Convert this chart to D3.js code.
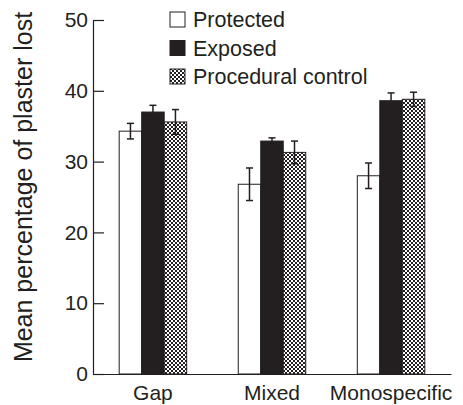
<!DOCTYPE html>
<html>
<head>
<meta charset="utf-8">
<script src="https://cdn.jsdelivr.net/npm/d3@7"></script>
<style>
body { margin: 0; background: #fff; }
text { font-family: "Liberation Sans", Arial, sans-serif; fill: #231f20; }
</style>
</head>
<body>
<svg id="chart" width="463" height="405"></svg>
<script>
// data
var sites = ["Gap", "Mixed", "Monospecific"];
var treatments = ["Protected", "Exposed", "Procedural control"];
var protectedMean = [34.3, 26.8, 28.0];
var protectedErr = [1.1, 2.3, 1.8];
var exposedMean = [37.0, 32.9, 38.6];
var exposedErr = [0.95, 0.45, 1.1];
var controlMean = [35.6, 31.3, 38.8];
var controlErr = [1.75, 1.6, 1.0];
var yTicks = [0, 10, 20, 30, 40, 50];

var margin = {top: 20, right: 12, bottom: 31, left: 93},
    width = 463 - margin.left - margin.right,
    height = 405 - margin.top - margin.bottom;

var data = [];
sites.forEach(function(s, i) {
    data.push({site: s, treatment: treatments[0], mean: protectedMean[i], err: protectedErr[i]});
    data.push({site: s, treatment: treatments[1], mean: exposedMean[i], err: exposedErr[i]});
    data.push({site: s, treatment: treatments[2], mean: controlMean[i], err: controlErr[i]});
});

var svg = d3.select("#chart");

// checker pattern for procedural control
var defs = svg.append("defs");
var pat = defs.append("pattern")
    .attr("id", "checker")
    .attr("patternUnits", "userSpaceOnUse")
    .attr("width", 4)
    .attr("height", 4);
pat.append("rect").attr("width", 4).attr("height", 4).attr("fill", "#fff");
pat.append("rect").attr("width", 2).attr("height", 2).attr("fill", "#231f20");
pat.append("rect").attr("x", 2).attr("y", 2).attr("width", 2).attr("height", 2).attr("fill", "#231f20");

var fills = {"Protected": "#fff", "Exposed": "#231f20", "Procedural control": "url(#checker)"};

var g = svg.append("g")
    .attr("transform", "translate(" + margin.left + "," + margin.top + ")");

var x0 = d3.scaleBand().domain(sites).range([0, width]).paddingInner(0.433).paddingOuter(0.22);
var x1 = d3.scaleBand().domain(treatments).range([0, x0.bandwidth()]);
var y = d3.scaleLinear().domain([0, 50]).range([height, 0]);

// bars
g.selectAll("rect.bar")
    .data(data)
    .enter().append("rect")
    .attr("class", "bar")
    .attr("x", function(d) { return x0(d.site) + x1(d.treatment); })
    .attr("y", function(d) { return y(d.mean); })
    .attr("width", x1.bandwidth())
    .attr("height", function(d) { return height - y(d.mean); })
    .attr("fill", function(d) { return fills[d.treatment]; })
    .attr("stroke", "#231f20")
    .attr("stroke-width", 1);

// error bars
var eb = g.selectAll("g.err")
    .data(data)
    .enter().append("g")
    .attr("class", "err")
    .attr("transform", function(d) { return "translate(" + (x0(d.site) + x1(d.treatment) + x1.bandwidth() / 2) + ",0)"; });
eb.append("line")
    .attr("y1", function(d) { return y(d.mean + d.err); })
    .attr("y2", function(d) { return y(d.mean - d.err); })
    .attr("stroke", "#231f20").attr("stroke-width", 1.5);
eb.append("line")
    .attr("x1", -3.5).attr("x2", 3.5)
    .attr("y1", function(d) { return y(d.mean + d.err); })
    .attr("y2", function(d) { return y(d.mean + d.err); })
    .attr("stroke", "#231f20").attr("stroke-width", 1.5);
eb.append("line")
    .attr("x1", -3.5).attr("x2", 3.5)
    .attr("y1", function(d) { return y(d.mean - d.err); })
    .attr("y2", function(d) { return y(d.mean - d.err); })
    .attr("stroke", "#231f20").attr("stroke-width", 1.5);

// y axis, ticks pointing inward
var yAxis = g.append("g")
    .call(d3.axisLeft(y).tickValues(yTicks).tickSizeInner(-11).tickSizeOuter(0).tickPadding(5));
yAxis.selectAll("text").style("font-size", "21px").attr("font-family", "Liberation Sans, Arial, sans-serif");
yAxis.selectAll("line,path").attr("stroke", "#231f20").attr("stroke-width", 1.2);

// x axis
var xAxis = g.append("g")
    .attr("transform", "translate(0," + height + ")")
    .call(d3.axisBottom(x0).tickSize(0).tickPadding(11));
xAxis.selectAll("text").style("font-size", "21px").attr("font-family", "Liberation Sans, Arial, sans-serif");
xAxis.select("path").attr("stroke", "#231f20").attr("stroke-width", 1.2);

// y axis title
svg.append("text")
    .attr("transform", "translate(32,187) rotate(-90)")
    .attr("text-anchor", "middle")
    .style("font-size", "25px")
    .text("Mean percentage of plaster lost");

// legend
var legend = svg.append("g")
    .attr("transform", "translate(170,27)");
var item = legend.selectAll("g")
    .data(treatments)
    .enter().append("g")
    .attr("transform", function(d, i) { return "translate(0," + (i * 28.5) + ")"; });
item.append("rect")
    .attr("y", -15)
    .attr("width", 15).attr("height", 15)
    .attr("fill", function(d) { return fills[d]; })
    .attr("stroke", "#231f20");
item.append("text")
    .attr("x", 23).attr("y", 0)
    .style("font-size", "21.5px")
    .text(function(d) { return d; });
</script>
</body>
</html>
